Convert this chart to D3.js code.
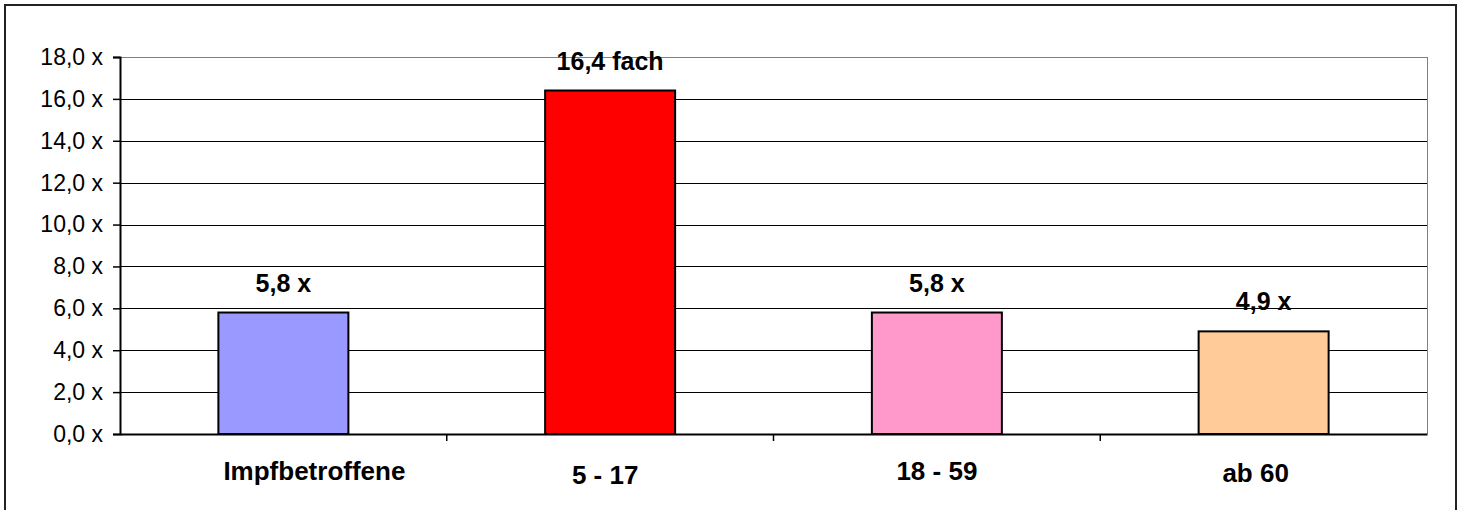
<!DOCTYPE html>
<html>
<head>
<meta charset="utf-8">
<script src="https://cdn.jsdelivr.net/npm/d3@7"></script>
<style>
  html, body { margin: 0; padding: 0; background: #fff; }
  svg { display: block; }
  text { font-family: "Liberation Sans", Arial, sans-serif; }
</style>
</head>
<body>
<svg id="chart" width="1464" height="510"></svg>
<script>
const categories = ["Impfbetroffene", "5 - 17", "18 - 59", "ab 60"];
const values = [5.8, 16.4, 5.8, 4.9];
const valueLabels = ["5,8 x", "16,4 fach", "5,8 x", "4,9 x"];
const colors = ["#9999FF", "#FF0000", "#FF99CC", "#FFCC99"];
const yTicks = [0, 2, 4, 6, 8, 10, 12, 14, 16, 18];

const svg = d3.select("#chart");
const plot = { left: 120, right: 1427, top: 57, bottom: 434 };

// outer border
svg.append("rect")
  .attr("x", 5).attr("y", 5).attr("width", 1451).attr("height", 520)
  .attr("fill", "#fff").attr("stroke", "#222").attr("stroke-width", 2);

const x = d3.scaleBand().domain(categories).range([plot.left, plot.right]).paddingInner(0).paddingOuter(0);
const y = d3.scaleLinear().domain([0, 18]).range([plot.bottom, plot.top]);

// gridlines
svg.append("g").selectAll("line").data(yTicks.filter(d => d > 0)).join("line")
  .attr("x1", plot.left).attr("x2", plot.right)
  .attr("y1", d => Math.round(y(d)) + 0.5).attr("y2", d => Math.round(y(d)) + 0.5)
  .attr("stroke", d => d === 18 ? "#808080" : "#000").attr("stroke-width", 1);

// plot area right border
svg.append("line")
  .attr("x1", plot.right + 0.5).attr("x2", plot.right + 0.5)
  .attr("y1", plot.top).attr("y2", plot.bottom)
  .attr("stroke", "#808080").attr("stroke-width", 1);

// bars
const barW = 130;
svg.append("g").selectAll("rect").data(values).join("rect")
  .attr("x", (d, i) => x(categories[i]) + x.bandwidth() / 2 - barW / 2)
  .attr("y", d => y(d))
  .attr("width", barW)
  .attr("height", d => y(0) - y(d))
  .attr("fill", (d, i) => colors[i])
  .attr("stroke", "#000").attr("stroke-width", 2);

// value labels
svg.append("g").selectAll("text").data(values).join("text")
  .attr("x", (d, i) => x(categories[i]) + x.bandwidth() / 2)
  .attr("y", d => y(d) - 21)
  .attr("text-anchor", "middle")
  .attr("font-size", 25).attr("font-weight", "bold").attr("fill", "#000")
  .text((d, i) => valueLabels[i]);

// y axis
const yAxis = d3.axisLeft(y).tickValues(yTicks).tickSize(7).tickPadding(10)
  .tickFormat(d => d3.format(".1f")(d).replace(".", ",") + " x");
const gy = svg.append("g").attr("transform", `translate(${plot.left},0)`).call(yAxis);
gy.select(".domain").attr("stroke", "#000").attr("stroke-width", 2);
gy.selectAll(".tick line").attr("stroke", "#000").attr("stroke-width", 1.5);
gy.selectAll(".tick text").attr("font-size", 23).attr("fill", "#000")
  .attr("font-family", "'Liberation Sans', Arial, sans-serif");

// x axis
const xAxis = d3.axisBottom(x).tickSize(0).tickFormat("");
const gx = svg.append("g").attr("transform", `translate(0,${plot.bottom})`).call(xAxis);
gx.select(".domain").attr("stroke", "#000").attr("stroke-width", 2);
const seps = categories.slice(1).map(c => x(c));
gx.selectAll(".sep").data(seps).join("line").attr("class", "sep")
  .attr("x1", d => d).attr("x2", d => d).attr("y1", 0).attr("y2", 7)
  .attr("stroke", "#000").attr("stroke-width", 1.5);

// category labels (small per-label layout nudges as in the original)
const labelDx = [31, -5, 0, -8];
const labelY = [480, 484, 480, 482];
svg.append("g").selectAll("text").data(categories).join("text")
  .attr("x", (d, i) => x(d) + x.bandwidth() / 2 + labelDx[i])
  .attr("y", (d, i) => labelY[i])
  .attr("text-anchor", "middle")
  .attr("font-size", 26).attr("font-weight", "bold").attr("fill", "#000")
  .text(d => d);
</script>
</body>
</html>
